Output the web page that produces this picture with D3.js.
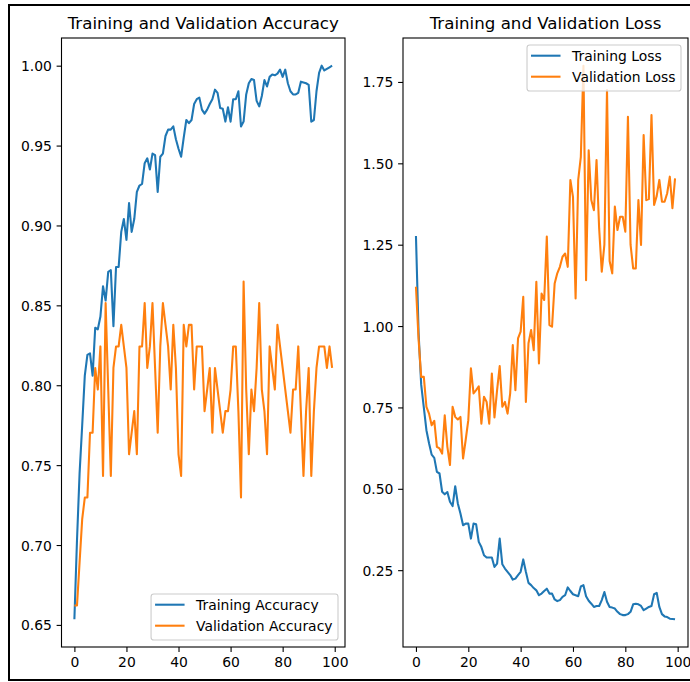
<!DOCTYPE html>
<html>
<head>
<meta charset="utf-8">
<script src="https://cdn.jsdelivr.net/npm/d3@7/dist/d3.min.js"></script>
<style>
  html, body { margin: 0; padding: 0; background: #fff; }
  svg { display: block; }
  text { font-family: "DejaVu Sans", sans-serif; fill: #000; }
</style>
</head>
<body>
<svg id="fig" width="690" height="682"></svg>
<script>
// Epoch indices 0..99
const epochs = d3.range(100);

// Training accuracy per epoch
const trainAcc = [
  0.6535, 0.703, 0.745, 0.775, 0.806, 0.819, 0.820, 0.806, 0.836, 0.835,
  0.843, 0.862, 0.853, 0.871, 0.872, 0.837, 0.874, 0.874, 0.896, 0.904,
  0.891, 0.914, 0.896, 0.904, 0.921, 0.925, 0.926, 0.939, 0.942, 0.935,
  0.945, 0.944, 0.921, 0.943, 0.945, 0.956, 0.960, 0.960, 0.962, 0.954,
  0.948, 0.943, 0.955, 0.966, 0.964, 0.966, 0.976, 0.979, 0.980, 0.9725,
  0.970, 0.9725, 0.976, 0.979, 0.985, 0.983, 0.9735, 0.973, 0.965, 0.974,
  0.965, 0.979, 0.979, 0.984, 0.962, 0.965, 0.982, 0.989, 0.9917, 0.991,
  0.978, 0.9745, 0.981, 0.991, 0.987, 0.993, 0.9945, 0.994, 0.995, 0.9975,
  0.993, 0.9975, 0.989, 0.984, 0.982, 0.982, 0.983, 0.990, 0.9895, 0.989,
  0.988, 0.965, 0.966, 0.984, 0.9955, 1.000, 0.997, 0.998, 0.999, 1.000
];

// Validation accuracy per epoch
const valAcc = [
  0.6622, 0.6622, 0.6892, 0.7162, 0.7297, 0.7297, 0.7703, 0.7703, 0.8108, 0.7973,
  0.8243, 0.7432, 0.8514, 0.7973, 0.7432, 0.8108, 0.8243, 0.8243, 0.8378, 0.8243,
  0.8108, 0.7568, 0.7703, 0.7838, 0.7568, 0.8243, 0.8243, 0.8514, 0.8108, 0.8243,
  0.8514, 0.8108, 0.7703, 0.8243, 0.8514, 0.8378, 0.8243, 0.7973, 0.8378, 0.8108,
  0.7568, 0.7432, 0.8378, 0.8243, 0.8378, 0.8378, 0.7973, 0.8243, 0.8243, 0.8243,
  0.7838, 0.7973, 0.8108, 0.7703, 0.8108, 0.7973, 0.7838, 0.7703, 0.7838, 0.7838,
  0.7973, 0.8243, 0.8243, 0.7838, 0.7297, 0.8649, 0.7973, 0.7568, 0.7973, 0.7838,
  0.8108, 0.8514, 0.7973, 0.7838, 0.7568, 0.8243, 0.8108, 0.7973, 0.8378, 0.8243,
  0.8108, 0.7973, 0.7838, 0.7703, 0.7973, 0.7973, 0.8243, 0.7838, 0.7432, 0.7838,
  0.8108, 0.7432, 0.7838, 0.8108, 0.8243, 0.8243, 0.8243, 0.8108, 0.8243, 0.8108
];

// Training loss per epoch
const trainLoss = [
  1.277, 0.98, 0.82, 0.75, 0.68, 0.64, 0.605, 0.595, 0.552, 0.547,
  0.491, 0.483, 0.49, 0.46, 0.447, 0.508, 0.455, 0.424, 0.388, 0.393,
  0.393, 0.347, 0.393, 0.391, 0.337, 0.321, 0.296, 0.289, 0.289, 0.289,
  0.26, 0.27, 0.347, 0.268, 0.255, 0.245, 0.235, 0.221, 0.224, 0.235,
  0.245, 0.283, 0.245, 0.211, 0.204, 0.195, 0.188, 0.173, 0.178, 0.186,
  0.193, 0.178, 0.178, 0.16, 0.155, 0.158, 0.168, 0.173, 0.197, 0.186,
  0.176, 0.173, 0.17, 0.2, 0.204, 0.17, 0.156, 0.147, 0.137, 0.14,
  0.14, 0.158, 0.183, 0.153, 0.137, 0.135, 0.132, 0.122, 0.115, 0.112,
  0.112, 0.115, 0.122, 0.145, 0.147, 0.145, 0.14, 0.127, 0.132, 0.137,
  0.14, 0.176, 0.18, 0.137, 0.115, 0.108, 0.106, 0.101, 0.10, 0.099
];

// Validation loss per epoch
const valLoss = [
  1.121, 0.96, 0.844, 0.844, 0.752, 0.731, 0.695, 0.709, 0.629, 0.624,
  0.608, 0.726, 0.629, 0.573, 0.752, 0.721, 0.713, 0.721, 0.593, 0.65,
  0.711, 0.87, 0.793, 0.803, 0.815, 0.70, 0.783, 0.767, 0.70, 0.854,
  0.719, 0.803, 0.877, 0.752, 0.767, 0.731, 0.793, 0.942, 0.803, 0.962,
  0.983, 1.09, 0.767, 0.947, 0.988, 0.926, 1.136, 0.885, 1.10, 1.08,
  1.275, 1.003, 0.998, 1.131, 1.162, 1.182, 1.213, 1.223, 1.182, 1.449,
  1.397, 1.085, 1.449, 1.52, 1.80, 1.141, 1.54, 1.387, 1.356, 1.51,
  1.30, 1.167, 1.25, 1.725, 1.20, 1.162, 1.367, 1.295, 1.336, 1.336,
  1.29, 1.643, 1.25, 1.177, 1.177, 1.387, 1.249, 1.587, 1.387, 1.39,
  1.648, 1.372, 1.40, 1.449, 1.382, 1.382, 1.408, 1.459, 1.362, 1.454
];

// Tick values
const xTicks = [0, 20, 40, 60, 80, 100];
const accTicks = [0.65, 0.70, 0.75, 0.80, 0.85, 0.90, 0.95, 1.00];
const lossTicks = [0.25, 0.50, 0.75, 1.00, 1.25, 1.50, 1.75];

const seriesColors = { train: "#1f77b4", val: "#ff7f0e" };

const svg = d3.select("#fig");

// figure outline
svg.append("rect")
  .attr("x", 9).attr("y", 5)
  .attr("width", 700).attr("height", 675)
  .attr("fill", "none").attr("stroke", "#000").attr("stroke-width", 2);

const FS_TICK = 13.9, FS_TITLE = 16.67;

function padded(values) {
  const [lo, hi] = d3.extent(values);
  const m = (hi - lo) * 0.05;
  return [lo - m, hi + m];
}

function panel(opts) {
  const { left, right, top, bottom, title, train, val, yTicks, names, legendPos } = opts;
  const g = svg.append("g");

  const x = d3.scaleLinear().domain([-4.95, 103.95]).range([left, right]);
  const y = d3.scaleLinear().domain(padded(train.concat(val))).range([bottom, top]);

  const line = d3.line().x((d, i) => x(epochs[i])).y(d => y(d));

  [[train, seriesColors.train], [val, seriesColors.val]].forEach(([data, c]) => {
    g.append("path")
      .datum(data)
      .attr("d", line)
      .attr("fill", "none")
      .attr("stroke", c)
      .attr("stroke-width", 2.08)
      .attr("stroke-linejoin", "round");
  });

  // axes with matplotlib-like ticks
  const xAxis = d3.axisBottom(x).tickValues(xTicks).tickSize(4.9).tickPadding(4.8).tickFormat(d3.format("d"));
  const yAxis = d3.axisLeft(y).tickValues(yTicks).tickSize(4.9).tickPadding(4.8).tickFormat(d3.format(".2f"));

  const gx = g.append("g").attr("transform", `translate(0,${bottom})`).call(xAxis);
  const gy = g.append("g").attr("transform", `translate(${left},0)`).call(yAxis);
  [gx, gy].forEach(a => {
    a.select(".domain").remove();
    a.selectAll(".tick line").attr("stroke", "#000").attr("stroke-width", 1.1);
    a.selectAll(".tick text").attr("font-size", FS_TICK).attr("fill", "#000")
      .style("font-family", '"DejaVu Sans", sans-serif');
  });
  gx.selectAll(".tick text").attr("dy", null).attr("y", 9.7).attr("dominant-baseline", "hanging");
  gy.selectAll(".tick text").attr("dy", "0.36em");

  // frame
  g.append("rect")
    .attr("x", left).attr("y", top)
    .attr("width", right - left).attr("height", bottom - top)
    .attr("fill", "none").attr("stroke", "#000").attr("stroke-width", 1.1);

  // title
  g.append("text")
    .attr("x", (left + right) / 2).attr("y", top - 9)
    .attr("text-anchor", "middle")
    .attr("font-size", FS_TITLE)
    .text(title);

  // legend
  const lg = g.append("g");
  const frame = lg.append("rect");
  const labels = names.map((n, k) =>
    lg.append("text").attr("font-size", FS_TICK).text(n));
  const tw = d3.max(labels, t => t.node().getComputedTextLength());
  const boxW = 4 + 29.5 + 11.5 + tw + 5.5;
  const boxH = 46;
  const bx = right - 7 - boxW;
  const by = legendPos === "lower right" ? bottom - 7 - boxH : top + 7;
  frame.attr("x", bx).attr("y", by).attr("width", boxW).attr("height", boxH)
    .attr("rx", 2.8).attr("ry", 2.8)
    .attr("fill", "rgba(255,255,255,0.8)")
    .attr("stroke", "#cccccc").attr("stroke-width", 1.1);
  [seriesColors.train, seriesColors.val].forEach((c, k) => {
    const ly = by + 10.7 + k * 21;
    lg.append("line")
      .attr("x1", bx + 4).attr("x2", bx + 33.5)
      .attr("y1", ly).attr("y2", ly)
      .attr("stroke", c).attr("stroke-width", 2.08);
    labels[k].attr("x", bx + 45).attr("y", ly + 5);
  });
}

panel({
  left: 61.5, right: 345, top: 38, bottom: 647,
  title: "Training and Validation Accuracy",
  train: trainAcc, val: valAcc, yTicks: accTicks,
  names: ["Training Accuracy", "Validation Accuracy"],
  legendPos: "lower right"
});

panel({
  left: 403, right: 688, top: 38, bottom: 647,
  title: "Training and Validation Loss",
  train: trainLoss, val: valLoss, yTicks: lossTicks,
  names: ["Training Loss", "Validation Loss"],
  legendPos: "upper right"
});
</script>
</body>
</html>
